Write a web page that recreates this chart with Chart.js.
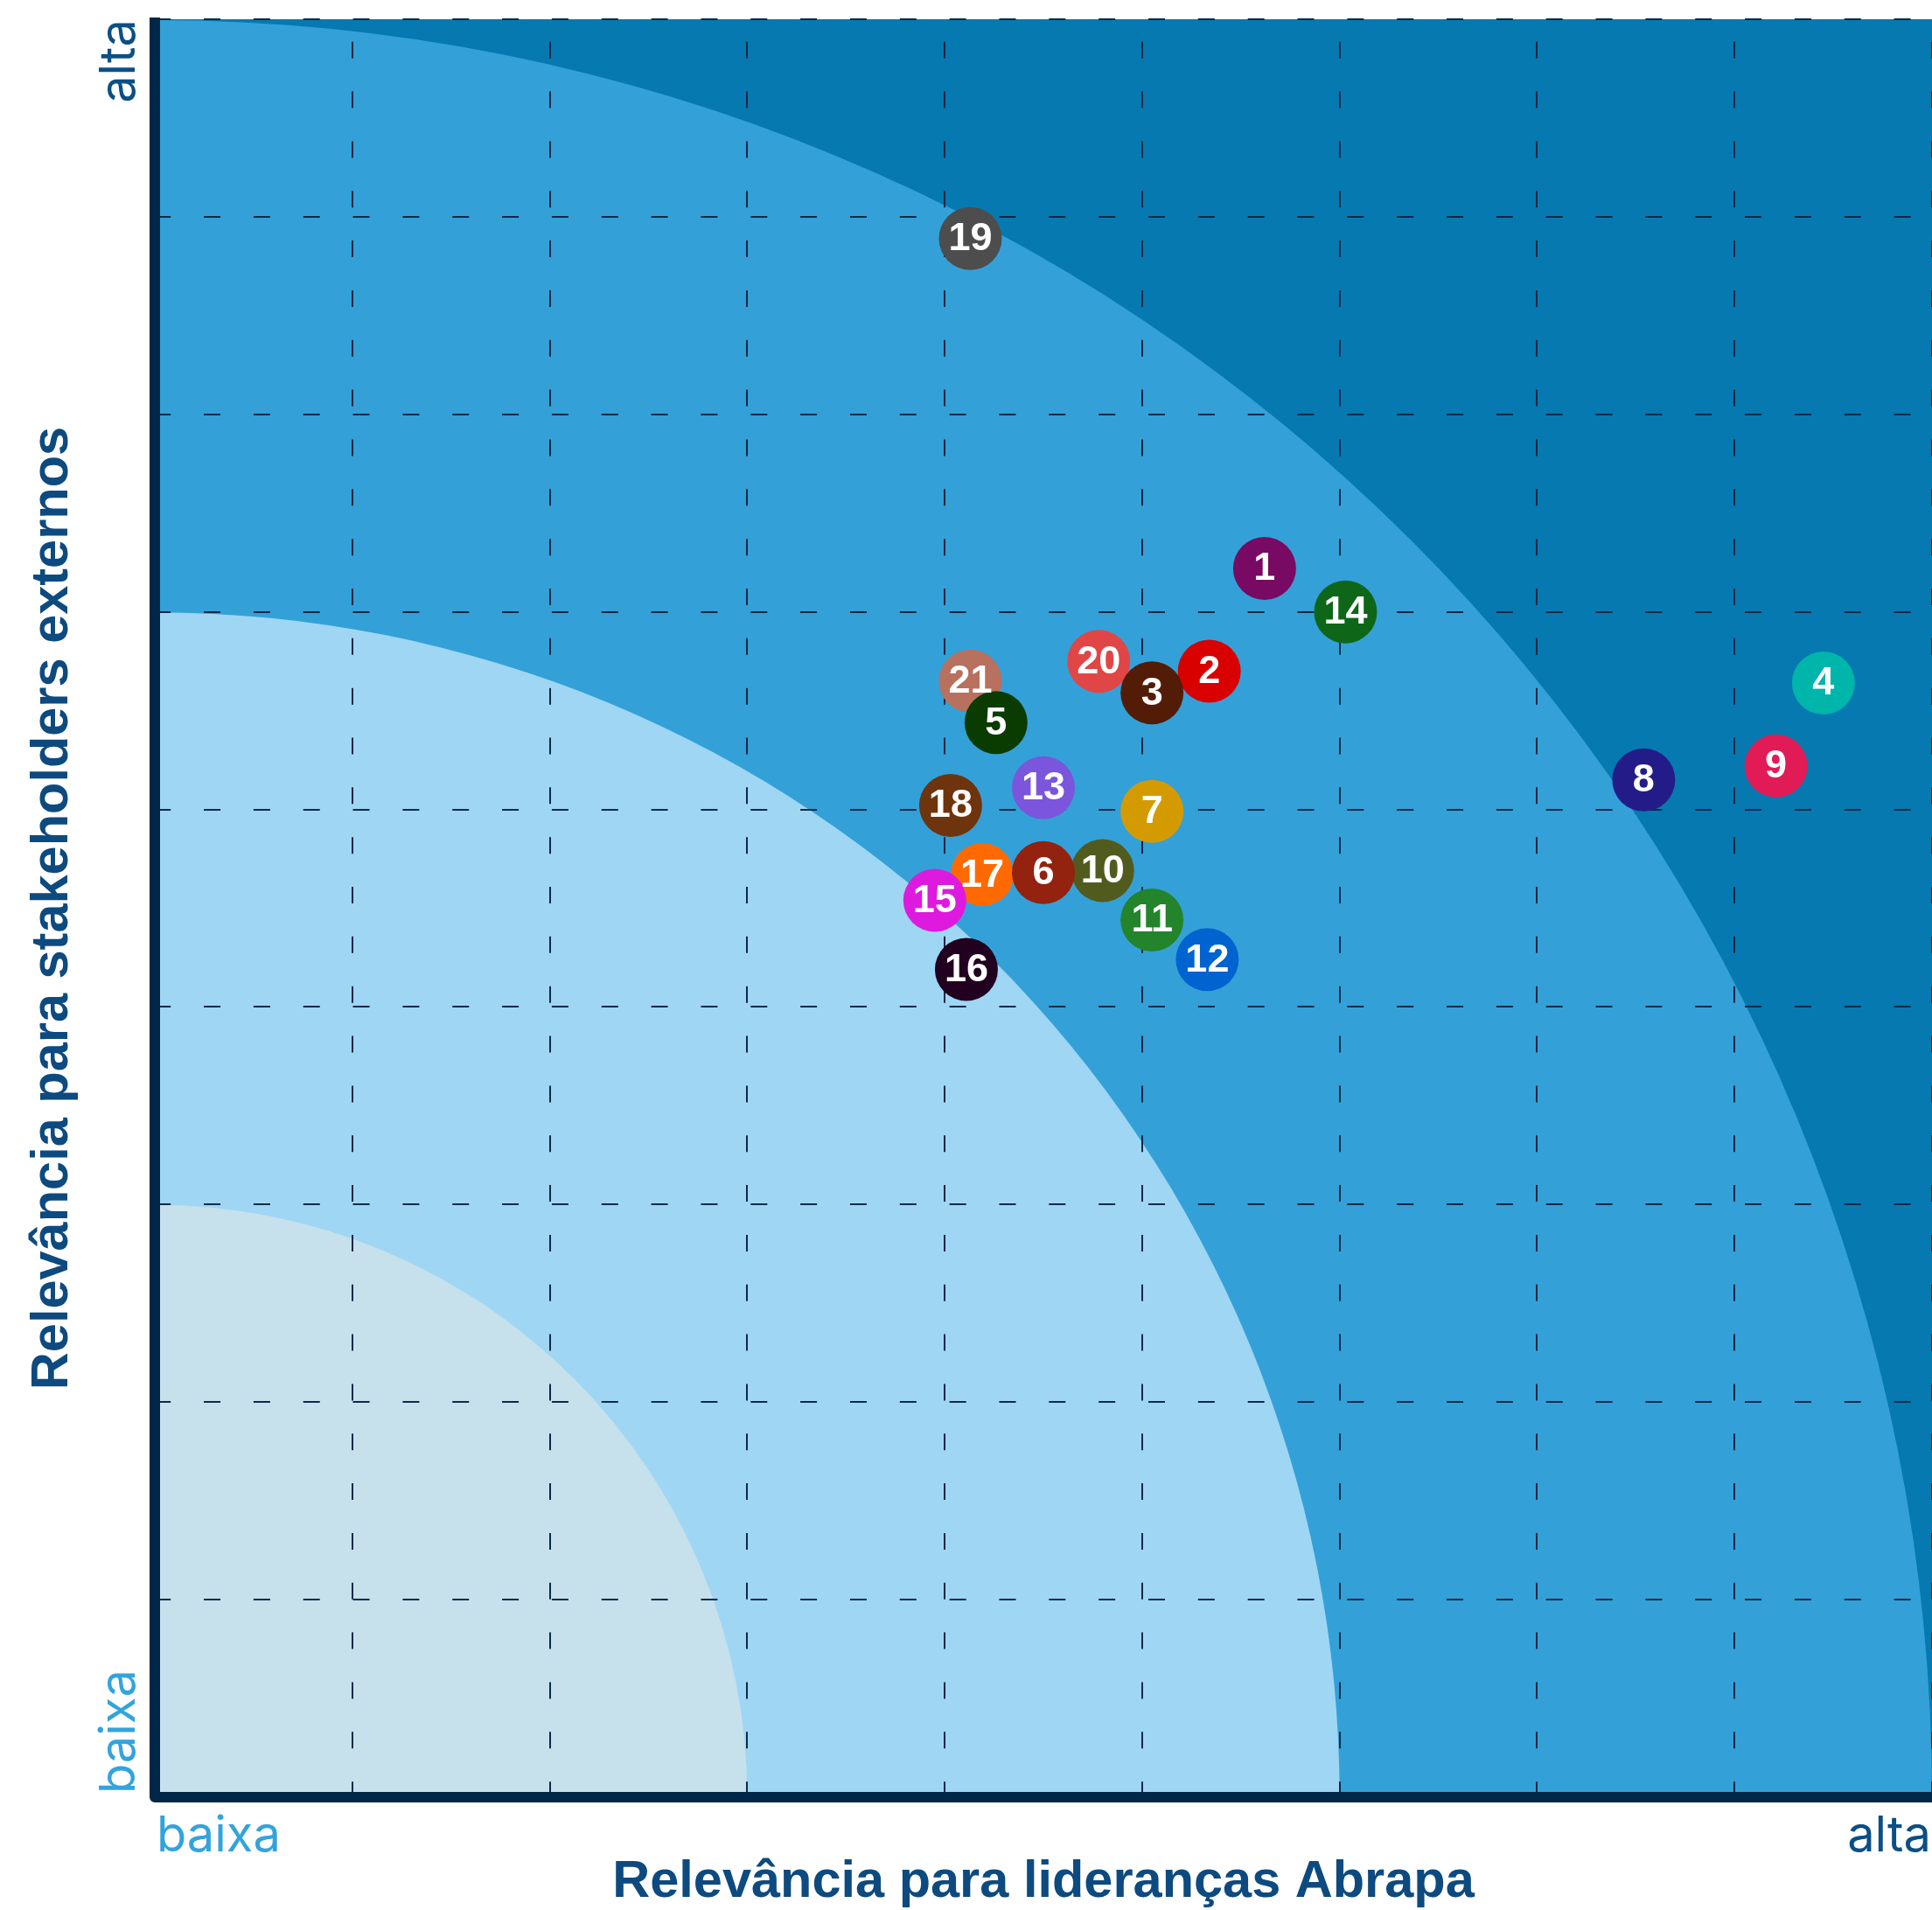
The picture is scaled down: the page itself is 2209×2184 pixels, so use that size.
<!DOCTYPE html>
<html>
<head>
<meta charset="utf-8">
<script src="https://cdn.jsdelivr.net/npm/chart.js@4.4.1/dist/chart.umd.min.js"></script>
<style>
  html, body { margin: 0; padding: 0; background: #ffffff; }
  #wrap { width: 2209px; height: 2184px; }
</style>
</head>
<body>
<div id="wrap"><canvas id="c" width="2209" height="2184"></canvas></div>
<script>
// ---- data ----
const topicLabels = ['1','14','20','2','3','21','5','13','18','7','17','10','6','15','11','12','16','4','9','8','19'];
const xValues = [5.62, 6.03, 4.78, 5.34, 5.05, 4.13, 4.26, 4.50, 4.03, 5.05, 4.19, 4.80, 4.50, 3.95, 5.05, 5.33, 4.11, 8.45, 8.21, 7.54, 4.13];
const yValues = [6.22, 6.00, 5.75, 5.70, 5.59, 5.65, 5.44, 5.11, 5.02, 4.99, 4.67, 4.69, 4.68, 4.54, 4.44, 4.24, 4.19, 5.64, 5.22, 5.15, 7.89];
const pointColors = ['#780a64','#0e6619','#e04646','#d90000','#531c07','#b8705f','#0a3c02','#7b55dc','#6e340d','#d49b00','#ff6a00','#525b1e','#93220f','#de1ade','#23842b','#0063d0','#22001f','#00b5aa','#e01b55','#231c88','#4d4d4d'];
const bandRadii = [9, 6, 3];
const bandColors = ['#33a1d8', '#9fd6f4', '#c6e1ec'];
const outerColor = '#0679b0';
const xEndLabels = ['baixa', 'alta'];
const yEndLabels = ['baixa', 'alta'];
const xTitle = 'Relevância para lideranças Abrapa';
const yTitle = 'Relevância para stakeholders externos';
const axisMin = 0, axisMax = 9;

const lowColor = '#33a3dc';
const highColor = '#0a4f85';
const titleColor = '#0d4a7f';
const gridColor = '#0b2a48';
const axisColor = '#002846';

const decor = {
  id: 'decor',
  beforeDraw(chart) {
    const { ctx, chartArea: a, scales: { x, y } } = chart;
    const cx = x.getPixelForValue(axisMin), cy = y.getPixelForValue(axisMin);
    ctx.save();
    ctx.beginPath();
    ctx.rect(a.left, a.top, a.right - a.left, a.bottom - a.top);
    ctx.clip();
    ctx.fillStyle = outerColor;
    ctx.fillRect(a.left, a.top, a.right - a.left, a.bottom - a.top);
    bandRadii.forEach((r, i) => {
      const rad = x.getPixelForValue(r) - cx;
      ctx.beginPath();
      ctx.moveTo(cx, cy);
      ctx.arc(cx, cy, rad, -Math.PI / 2, 0);
      ctx.closePath();
      ctx.fillStyle = bandColors[i];
      ctx.fill();
    });
    ctx.restore();
  },
  afterDatasetsDraw(chart) {
    const { ctx } = chart;
    const meta = chart.getDatasetMeta(0);
    ctx.save();
    ctx.fillStyle = '#ffffff';
    ctx.font = 'bold 45px "Liberation Sans", Arial, sans-serif';
    ctx.textAlign = 'center';
    ctx.textBaseline = 'middle';
    meta.data.forEach((pt, i) => {
      ctx.fillText(topicLabels[i], pt.x, pt.y + 1);
    });
    ctx.restore();
  },
  afterDraw(chart) {
    const { ctx, chartArea: a, scales: { x, y } } = chart;
    ctx.save();
    // axis lines
    ctx.strokeStyle = axisColor;
    ctx.lineWidth = 12;
    ctx.lineJoin = 'round';
    ctx.lineCap = 'butt';
    ctx.beginPath();
    ctx.moveTo(a.left, a.top - 2);
    ctx.lineTo(a.left, a.bottom);
    ctx.lineTo(a.right + 12, a.bottom);
    ctx.stroke();
    // end labels
    ctx.font = '400 56px Inter, "Open Sans", sans-serif';
    ctx.textBaseline = 'alphabetic';
    ctx.fillStyle = lowColor;
    ctx.textAlign = 'left';
    ctx.fillText(xEndLabels[0], x.getPixelForValue(axisMin) + 2, a.bottom + 62);
    ctx.fillStyle = highColor;
    ctx.textAlign = 'right';
    ctx.fillText(xEndLabels[1], x.getPixelForValue(axisMax) - 1, a.bottom + 62);
    // y end labels (rotated)
    ctx.save();
    ctx.translate(a.left - 23, y.getPixelForValue(axisMin) - 4);
    ctx.rotate(-Math.PI / 2);
    ctx.fillStyle = lowColor;
    ctx.textAlign = 'left';
    ctx.fillText(yEndLabels[0], 0, 0);
    ctx.restore();
    ctx.save();
    ctx.translate(a.left - 23, y.getPixelForValue(axisMax));
    ctx.rotate(-Math.PI / 2);
    ctx.fillStyle = highColor;
    ctx.textAlign = 'right';
    ctx.fillText(yEndLabels[1], 0, 0);
    ctx.restore();
    ctx.restore();
  }
};

const titleFont = { family: '"Liberation Sans", Arial, sans-serif', size: 59.5, weight: 'bold', lineHeight: 1 };

new Chart(document.getElementById('c'), {
  type: 'scatter',
  data: {
    datasets: [{
      data: xValues.map((v, i) => ({ x: v, y: yValues[i] })),
      backgroundColor: pointColors,
      borderWidth: 0,
      pointRadius: 36,
      pointHoverRadius: 36
    }]
  },
  options: {
    responsive: false,
    animation: false,
    devicePixelRatio: 1,
    events: [],
    layout: { autoPadding: false, padding: { top: 22, right: 0, bottom: 0, left: 0 } },
    plugins: { legend: { display: false }, tooltip: { enabled: false } },
    scales: {
      x: {
        type: 'linear', position: 'bottom', min: axisMin, max: axisMax,
        ticks: { display: false, stepSize: 1 },
        grid: { color: gridColor, lineWidth: 2, drawTicks: false },
        border: { display: false, dash: [19, 37.84], dashOffset: 31.1 },
        title: { display: true, text: xTitle, color: titleColor, font: titleFont, padding: { top: 67.7, bottom: 1.8 } }
      },
      y: {
        type: 'linear', position: 'left', min: axisMin, max: axisMax,
        ticks: { display: false, stepSize: 1 },
        grid: { color: gridColor, lineWidth: 2, drawTicks: false },
        border: { display: false, dash: [19, 37.84], dashOffset: 0.8 },
        title: { display: true, text: yTitle, color: titleColor, font: titleFont, padding: { top: 30.9, bottom: 86.6 } }
      }
    }
  },
  plugins: [decor]
});
</script>
</body>
</html>
